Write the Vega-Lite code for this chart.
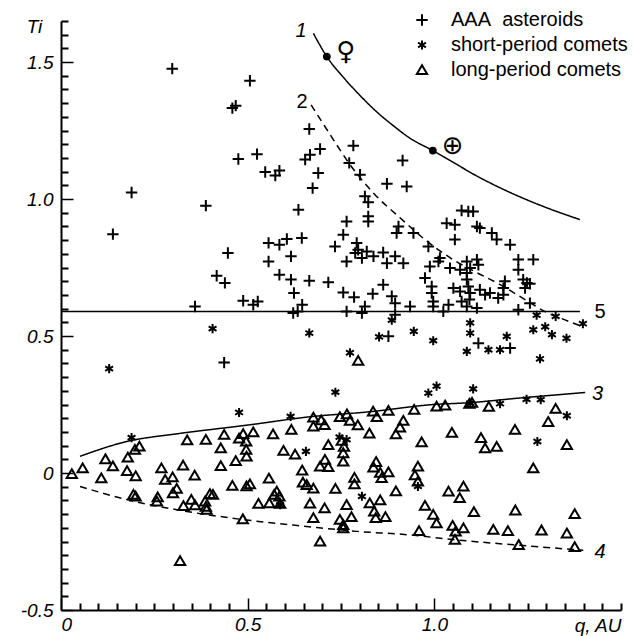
{
  "$schema": "https://vega.github.io/schema/vega-lite/v6.json",
  "width": 560,
  "height": 589,
  "autosize": {"type": "none"},
  "padding": {"left": 61, "top": 21, "right": 13, "bottom": 26},
  "config": {
    "view": {"stroke": null},
    "font": "Liberation Sans",
    "axis": {
      "domainColor": "black", "domainWidth": 2, "tickColor": "black", "tickWidth": 1.5,
      "labelColor": "black", "labelFont": "Liberation Sans", "labelFontStyle": "italic", "labelFontSize": 19,
      "grid": false, "titleColor": "black", "titleFont": "Liberation Sans", "titleFontStyle": "italic",
      "titleFontWeight": "normal", "titleFontSize": 19
    }
  },
  "resolve": {"axis": {"x": "independent", "y": "independent"}},
  "datasets": {
    "points": [
      {"q":0.298,"Ti":1.476,"type":"AAA asteroids"},{"q":0.189,"Ti":1.024,"type":"AAA asteroids"},{"q":0.139,"Ti":0.872,"type":"AAA asteroids"},{"q":0.388,"Ti":0.976,"type":"AAA asteroids"},{"q":0.506,"Ti":1.432,"type":"AAA asteroids"},{"q":0.459,"Ti":1.332,"type":"AAA asteroids"},{"q":0.468,"Ti":1.341,"type":"AAA asteroids"},{"q":0.475,"Ti":1.146,"type":"AAA asteroids"},{"q":0.525,"Ti":1.164,"type":"AAA asteroids"},{"q":0.547,"Ti":1.099,"type":"AAA asteroids"},{"q":0.574,"Ti":1.086,"type":"AAA asteroids"},{"q":0.585,"Ti":1.104,"type":"AAA asteroids"},{"q":0.447,"Ti":0.803,"type":"AAA asteroids"},{"q":0.417,"Ti":0.720,"type":"AAA asteroids"},{"q":0.439,"Ti":0.694,"type":"AAA asteroids"},{"q":0.359,"Ti":0.608,"type":"AAA asteroids"},{"q":0.488,"Ti":0.629,"type":"AAA asteroids"},{"q":0.515,"Ti":0.614,"type":"AAA asteroids"},{"q":0.527,"Ti":0.626,"type":"AAA asteroids"},{"q":0.556,"Ti":0.840,"type":"AAA asteroids"},{"q":0.585,"Ti":0.833,"type":"AAA asteroids"},{"q":0.605,"Ti":0.854,"type":"AAA asteroids"},{"q":0.556,"Ti":0.772,"type":"AAA asteroids"},{"q":0.616,"Ti":0.791,"type":"AAA asteroids"},{"q":0.585,"Ti":0.724,"type":"AAA asteroids"},{"q":0.616,"Ti":0.706,"type":"AAA asteroids"},{"q":0.665,"Ti":0.702,"type":"AAA asteroids"},{"q":0.624,"Ti":0.657,"type":"AAA asteroids"},{"q":0.622,"Ti":0.584,"type":"AAA asteroids"},{"q":0.634,"Ti":0.590,"type":"AAA asteroids"},{"q":0.646,"Ti":0.614,"type":"AAA asteroids"},{"q":0.645,"Ti":0.858,"type":"AAA asteroids"},{"q":0.636,"Ti":0.961,"type":"AAA asteroids"},{"q":0.674,"Ti":1.040,"type":"AAA asteroids"},{"q":0.665,"Ti":1.256,"type":"AAA asteroids"},{"q":0.654,"Ti":1.144,"type":"AAA asteroids"},{"q":0.667,"Ti":1.162,"type":"AAA asteroids"},{"q":0.694,"Ti":1.183,"type":"AAA asteroids"},{"q":0.689,"Ti":1.095,"type":"AAA asteroids"},{"q":0.437,"Ti":0.403,"type":"AAA asteroids"},
      {"q":0.783,"Ti":1.195,"type":"AAA asteroids"},{"q":0.772,"Ti":1.132,"type":"AAA asteroids"},{"q":0.801,"Ti":1.089,"type":"AAA asteroids"},{"q":0.915,"Ti":1.141,"type":"AAA asteroids"},{"q":0.873,"Ti":1.056,"type":"AAA asteroids"},{"q":0.926,"Ti":1.046,"type":"AAA asteroids"},{"q":0.814,"Ti":1.010,"type":"AAA asteroids"},{"q":0.823,"Ti":0.988,"type":"AAA asteroids"},{"q":0.823,"Ti":0.937,"type":"AAA asteroids"},{"q":0.823,"Ti":0.918,"type":"AAA asteroids"},{"q":0.765,"Ti":0.918,"type":"AAA asteroids"},{"q":0.756,"Ti":0.870,"type":"AAA asteroids"},{"q":0.734,"Ti":0.827,"type":"AAA asteroids"},{"q":0.792,"Ti":0.840,"type":"AAA asteroids"},{"q":0.796,"Ti":0.815,"type":"AAA asteroids"},{"q":0.788,"Ti":0.803,"type":"AAA asteroids"},{"q":0.819,"Ti":0.809,"type":"AAA asteroids"},{"q":0.806,"Ti":0.785,"type":"AAA asteroids"},{"q":0.765,"Ti":0.772,"type":"AAA asteroids"},{"q":0.837,"Ti":0.791,"type":"AAA asteroids"},{"q":0.863,"Ti":0.805,"type":"AAA asteroids"},{"q":0.895,"Ti":0.791,"type":"AAA asteroids"},{"q":0.873,"Ti":0.766,"type":"AAA asteroids"},{"q":0.917,"Ti":0.766,"type":"AAA asteroids"},{"q":0.904,"Ti":0.900,"type":"AAA asteroids"},{"q":0.899,"Ti":0.876,"type":"AAA asteroids"},{"q":0.944,"Ti":0.876,"type":"AAA asteroids"},{"q":0.984,"Ti":0.827,"type":"AAA asteroids"},{"q":0.988,"Ti":0.754,"type":"AAA asteroids"},{"q":1.011,"Ti":0.772,"type":"AAA asteroids"},{"q":0.975,"Ti":0.712,"type":"AAA asteroids"},{"q":0.716,"Ti":0.696,"type":"AAA asteroids"},{"q":0.756,"Ti":0.659,"type":"AAA asteroids"},{"q":0.785,"Ti":0.642,"type":"AAA asteroids"},{"q":0.835,"Ti":0.654,"type":"AAA asteroids"},{"q":0.863,"Ti":0.687,"type":"AAA asteroids"},{"q":0.886,"Ti":0.645,"type":"AAA asteroids"},{"q":0.895,"Ti":0.620,"type":"AAA asteroids"},{"q":0.935,"Ti":0.608,"type":"AAA asteroids"},{"q":0.993,"Ti":0.681,"type":"AAA asteroids"},{"q":0.993,"Ti":0.657,"type":"AAA asteroids"},{"q":0.997,"Ti":0.626,"type":"AAA asteroids"},{"q":0.997,"Ti":0.608,"type":"AAA asteroids"},{"q":0.765,"Ti":0.590,"type":"AAA asteroids"},{"q":0.806,"Ti":0.584,"type":"AAA asteroids"},{"q":0.814,"Ti":0.608,"type":"AAA asteroids"},{"q":0.895,"Ti":0.578,"type":"AAA asteroids"},{"q":0.877,"Ti":0.499,"type":"AAA asteroids"},
      {"q":1.073,"Ti":0.958,"type":"AAA asteroids"},{"q":1.091,"Ti":0.955,"type":"AAA asteroids"},{"q":1.104,"Ti":0.955,"type":"AAA asteroids"},{"q":1.033,"Ti":0.912,"type":"AAA asteroids"},{"q":1.055,"Ti":0.906,"type":"AAA asteroids"},{"q":1.055,"Ti":0.852,"type":"AAA asteroids"},{"q":1.114,"Ti":0.900,"type":"AAA asteroids"},{"q":1.122,"Ti":0.894,"type":"AAA asteroids"},{"q":1.154,"Ti":0.876,"type":"AAA asteroids"},{"q":1.167,"Ti":0.852,"type":"AAA asteroids"},{"q":1.203,"Ti":0.833,"type":"AAA asteroids"},{"q":1.225,"Ti":0.779,"type":"AAA asteroids"},{"q":1.265,"Ti":0.779,"type":"AAA asteroids"},{"q":1.225,"Ti":0.742,"type":"AAA asteroids"},{"q":1.238,"Ti":0.706,"type":"AAA asteroids"},{"q":1.248,"Ti":0.694,"type":"AAA asteroids"},{"q":1.256,"Ti":0.691,"type":"AAA asteroids"},{"q":1.243,"Ti":0.675,"type":"AAA asteroids"},{"q":1.189,"Ti":0.700,"type":"AAA asteroids"},{"q":1.185,"Ti":0.675,"type":"AAA asteroids"},{"q":1.185,"Ti":0.651,"type":"AAA asteroids"},{"q":1.149,"Ti":0.657,"type":"AAA asteroids"},{"q":1.171,"Ti":0.639,"type":"AAA asteroids"},{"q":1.256,"Ti":0.620,"type":"AAA asteroids"},{"q":1.225,"Ti":0.596,"type":"AAA asteroids"},{"q":1.114,"Ti":0.779,"type":"AAA asteroids"},{"q":1.118,"Ti":0.760,"type":"AAA asteroids"},{"q":1.087,"Ti":0.772,"type":"AAA asteroids"},{"q":1.096,"Ti":0.748,"type":"AAA asteroids"},{"q":1.069,"Ti":0.742,"type":"AAA asteroids"},{"q":1.087,"Ti":0.730,"type":"AAA asteroids"},{"q":1.015,"Ti":0.785,"type":"AAA asteroids"},{"q":1.042,"Ti":0.748,"type":"AAA asteroids"},{"q":1.087,"Ti":0.706,"type":"AAA asteroids"},{"q":1.091,"Ti":0.681,"type":"AAA asteroids"},{"q":1.096,"Ti":0.657,"type":"AAA asteroids"},{"q":1.094,"Ti":0.633,"type":"AAA asteroids"},{"q":1.087,"Ti":0.608,"type":"AAA asteroids"},{"q":1.051,"Ti":0.675,"type":"AAA asteroids"},{"q":1.069,"Ti":0.663,"type":"AAA asteroids"},{"q":1.122,"Ti":0.669,"type":"AAA asteroids"},{"q":1.136,"Ti":0.651,"type":"AAA asteroids"},{"q":1.073,"Ti":0.626,"type":"AAA asteroids"},{"q":1.114,"Ti":0.602,"type":"AAA asteroids"},{"q":1.024,"Ti":0.590,"type":"AAA asteroids"},{"q":1.038,"Ti":0.614,"type":"AAA asteroids"},{"q":1.118,"Ti":0.474,"type":"AAA asteroids"},{"q":1.203,"Ti":0.456,"type":"AAA asteroids"},
      {"q":0.129,"Ti":0.381,"type":"short-period comets"},{"q":0.406,"Ti":0.527,"type":"short-period comets"},{"q":0.665,"Ti":0.511,"type":"short-period comets"},{"q":0.477,"Ti":0.221,"type":"short-period comets"},{"q":0.615,"Ti":0.207,"type":"short-period comets"},{"q":0.189,"Ti":0.129,"type":"short-period comets"},{"q":0.656,"Ti":0.079,"type":"short-period comets"},{"q":0.587,"Ti":-0.116,"type":"short-period comets"},{"q":0.886,"Ti":0.558,"type":"short-period comets"},{"q":0.852,"Ti":0.497,"type":"short-period comets"},{"q":0.945,"Ti":0.517,"type":"short-period comets"},{"q":0.997,"Ti":0.483,"type":"short-period comets"},{"q":0.774,"Ti":0.439,"type":"short-period comets"},{"q":1.096,"Ti":0.548,"type":"short-period comets"},{"q":1.096,"Ti":0.511,"type":"short-period comets"},{"q":1.194,"Ti":0.499,"type":"short-period comets"},{"q":1.087,"Ti":0.444,"type":"short-period comets"},{"q":1.145,"Ti":0.450,"type":"short-period comets"},{"q":1.176,"Ti":0.450,"type":"short-period comets"},{"q":1.283,"Ti":0.417,"type":"short-period comets"},{"q":1.265,"Ti":0.523,"type":"short-period comets"},{"q":1.297,"Ti":0.534,"type":"short-period comets"},{"q":1.315,"Ti":0.505,"type":"short-period comets"},{"q":1.274,"Ti":0.576,"type":"short-period comets"},{"q":1.354,"Ti":0.492,"type":"short-period comets"},{"q":1.398,"Ti":0.545,"type":"short-period comets"},{"q":1.325,"Ti":0.572,"type":"short-period comets"},{"q":0.735,"Ti":0.295,"type":"short-period comets"},{"q":0.984,"Ti":0.292,"type":"short-period comets"},{"q":1.006,"Ti":0.317,"type":"short-period comets"},{"q":1.104,"Ti":0.307,"type":"short-period comets"},{"q":1.096,"Ti":0.255,"type":"short-period comets"},{"q":1.176,"Ti":0.253,"type":"short-period comets"},{"q":1.247,"Ti":0.269,"type":"short-period comets"},{"q":1.285,"Ti":0.268,"type":"short-period comets"},{"q":1.355,"Ti":0.209,"type":"short-period comets"},{"q":1.276,"Ti":0.115,"type":"short-period comets"},{"q":0.746,"Ti":0.131,"type":"short-period comets"},{"q":0.765,"Ti":0.122,"type":"short-period comets"},{"q":0.806,"Ti":-0.085,"type":"short-period comets"},{"q":0.956,"Ti":-0.049,"type":"short-period comets"},
      {"q":0.029,"Ti":-0.003,"type":"long-period comets"},{"q":0.058,"Ti":0.018,"type":"long-period comets"},{"q":0.108,"Ti":-0.019,"type":"long-period comets"},{"q":0.119,"Ti":0.051,"type":"long-period comets"},{"q":0.139,"Ti":0.025,"type":"long-period comets"},{"q":0.179,"Ti":0.057,"type":"long-period comets"},{"q":0.177,"Ti":0.008,"type":"long-period comets"},{"q":0.200,"Ti":-0.011,"type":"long-period comets"},{"q":0.198,"Ti":0.085,"type":"long-period comets"},{"q":0.210,"Ti":0.097,"type":"long-period comets"},{"q":0.194,"Ti":-0.079,"type":"long-period comets"},{"q":0.200,"Ti":-0.085,"type":"long-period comets"},{"q":0.259,"Ti":-0.088,"type":"long-period comets"},{"q":0.257,"Ti":-0.104,"type":"long-period comets"},{"q":0.269,"Ti":0.018,"type":"long-period comets"},{"q":0.279,"Ti":-0.024,"type":"long-period comets"},{"q":0.299,"Ti":-0.015,"type":"long-period comets"},{"q":0.310,"Ti":-0.057,"type":"long-period comets"},{"q":0.300,"Ti":-0.073,"type":"long-period comets"},{"q":0.327,"Ti":0.028,"type":"long-period comets"},{"q":0.358,"Ti":-0.009,"type":"long-period comets"},{"q":0.338,"Ti":0.120,"type":"long-period comets"},{"q":0.388,"Ti":0.122,"type":"long-period comets"},{"q":0.437,"Ti":0.140,"type":"long-period comets"},{"q":0.428,"Ti":0.091,"type":"long-period comets"},{"q":0.428,"Ti":0.026,"type":"long-period comets"},{"q":0.468,"Ti":0.044,"type":"long-period comets"},{"q":0.477,"Ti":0.126,"type":"long-period comets"},{"q":0.488,"Ti":0.143,"type":"long-period comets"},{"q":0.459,"Ti":-0.046,"type":"long-period comets"},{"q":0.497,"Ti":-0.048,"type":"long-period comets"},{"q":0.506,"Ti":-0.041,"type":"long-period comets"},{"q":0.328,"Ti":-0.120,"type":"long-period comets"},{"q":0.349,"Ti":-0.097,"type":"long-period comets"},{"q":0.359,"Ti":-0.117,"type":"long-period comets"},{"q":0.388,"Ti":-0.123,"type":"long-period comets"},{"q":0.390,"Ti":-0.134,"type":"long-period comets"},{"q":0.399,"Ti":-0.076,"type":"long-period comets"},{"q":0.407,"Ti":-0.079,"type":"long-period comets"},{"q":0.386,"Ti":-0.104,"type":"long-period comets"},{"q":0.487,"Ti":-0.168,"type":"long-period comets"},{"q":0.319,"Ti":-0.321,"type":"long-period comets"},{"q":0.497,"Ti":0.061,"type":"long-period comets"},{"q":0.496,"Ti":0.115,"type":"long-period comets"},{"q":0.496,"Ti":0.085,"type":"long-period comets"},{"q":0.515,"Ti":0.149,"type":"long-period comets"},{"q":0.529,"Ti":-0.112,"type":"long-period comets"},{"q":0.558,"Ti":-0.110,"type":"long-period comets"},{"q":0.571,"Ti":-0.079,"type":"long-period comets"},{"q":0.578,"Ti":-0.067,"type":"long-period comets"},{"q":0.585,"Ti":-0.085,"type":"long-period comets"},{"q":0.557,"Ti":-0.020,"type":"long-period comets"},{"q":0.568,"Ti":0.142,"type":"long-period comets"},{"q":0.596,"Ti":0.082,"type":"long-period comets"},{"q":0.617,"Ti":0.158,"type":"long-period comets"},{"q":0.627,"Ti":0.068,"type":"long-period comets"},{"q":0.646,"Ti":0.010,"type":"long-period comets"},{"q":0.648,"Ti":-0.034,"type":"long-period comets"},{"q":0.658,"Ti":-0.043,"type":"long-period comets"},{"q":0.676,"Ti":-0.056,"type":"long-period comets"},{"q":0.667,"Ti":-0.111,"type":"long-period comets"},{"q":0.676,"Ti":-0.164,"type":"long-period comets"},{"q":0.676,"Ti":0.203,"type":"long-period comets"},{"q":0.697,"Ti":0.193,"type":"long-period comets"},{"q":0.676,"Ti":0.170,"type":"long-period comets"},{"q":0.706,"Ti":0.176,"type":"long-period comets"},{"q":0.694,"Ti":-0.250,"type":"long-period comets"},{"q":0.747,"Ti":0.205,"type":"long-period comets"},{"q":0.766,"Ti":0.215,"type":"long-period comets"},{"q":0.774,"Ti":0.191,"type":"long-period comets"},{"q":0.795,"Ti":0.175,"type":"long-period comets"},{"q":0.836,"Ti":0.225,"type":"long-period comets"},{"q":0.846,"Ti":0.205,"type":"long-period comets"},{"q":0.877,"Ti":0.228,"type":"long-period comets"},{"q":0.946,"Ti":0.231,"type":"long-period comets"},{"q":0.917,"Ti":0.191,"type":"long-period comets"},{"q":0.908,"Ti":0.167,"type":"long-period comets"},{"q":0.897,"Ti":0.142,"type":"long-period comets"},{"q":0.826,"Ti":0.145,"type":"long-period comets"},{"q":0.966,"Ti":0.113,"type":"long-period comets"},{"q":0.716,"Ti":0.103,"type":"long-period comets"},{"q":0.752,"Ti":0.118,"type":"long-period comets"},{"q":0.758,"Ti":0.096,"type":"long-period comets"},{"q":0.756,"Ti":0.073,"type":"long-period comets"},{"q":0.756,"Ti":0.042,"type":"long-period comets"},{"q":0.707,"Ti":0.049,"type":"long-period comets"},{"q":0.694,"Ti":0.024,"type":"long-period comets"},{"q":0.716,"Ti":0.022,"type":"long-period comets"},{"q":0.735,"Ti":-0.057,"type":"long-period comets"},{"q":0.786,"Ti":-0.017,"type":"long-period comets"},{"q":0.786,"Ti":-0.041,"type":"long-period comets"},{"q":0.844,"Ti":0.041,"type":"long-period comets"},{"q":0.837,"Ti":0.021,"type":"long-period comets"},{"q":0.855,"Ti":0.001,"type":"long-period comets"},{"q":0.877,"Ti":0.003,"type":"long-period comets"},{"q":0.859,"Ti":-0.018,"type":"long-period comets"},{"q":0.897,"Ti":-0.066,"type":"long-period comets"},{"q":0.956,"Ti":0.024,"type":"long-period comets"},{"q":0.948,"Ti":-0.008,"type":"long-period comets"},{"q":0.956,"Ti":-0.031,"type":"long-period comets"},{"q":0.587,"Ti":-0.112,"type":"long-period comets"},{"q":0.706,"Ti":-0.128,"type":"long-period comets"},{"q":0.765,"Ti":-0.116,"type":"long-period comets"},{"q":0.827,"Ti":-0.110,"type":"long-period comets"},{"q":0.855,"Ti":-0.099,"type":"long-period comets"},{"q":0.839,"Ti":-0.140,"type":"long-period comets"},{"q":0.843,"Ti":-0.164,"type":"long-period comets"},{"q":0.869,"Ti":-0.160,"type":"long-period comets"},{"q":0.747,"Ti":-0.170,"type":"long-period comets"},{"q":0.756,"Ti":-0.189,"type":"long-period comets"},{"q":0.756,"Ti":-0.201,"type":"long-period comets"},{"q":0.778,"Ti":-0.160,"type":"long-period comets"},{"q":0.959,"Ti":-0.211,"type":"long-period comets"},{"q":0.975,"Ti":-0.119,"type":"long-period comets"},{"q":0.997,"Ti":-0.152,"type":"long-period comets"},{"q":1.006,"Ti":-0.183,"type":"long-period comets"},{"q":1.006,"Ti":0.243,"type":"long-period comets"},{"q":1.029,"Ti":0.247,"type":"long-period comets"},{"q":1.094,"Ti":0.253,"type":"long-period comets"},{"q":1.101,"Ti":0.257,"type":"long-period comets"},{"q":1.146,"Ti":0.242,"type":"long-period comets"},{"q":1.325,"Ti":0.235,"type":"long-period comets"},{"q":1.305,"Ti":0.187,"type":"long-period comets"},{"q":1.216,"Ti":0.158,"type":"long-period comets"},{"q":1.047,"Ti":0.147,"type":"long-period comets"},{"q":1.125,"Ti":0.128,"type":"long-period comets"},{"q":1.136,"Ti":0.091,"type":"long-period comets"},{"q":1.167,"Ti":0.096,"type":"long-period comets"},{"q":1.355,"Ti":0.103,"type":"long-period comets"},{"q":1.265,"Ti":0.018,"type":"long-period comets"},{"q":1.038,"Ti":-0.067,"type":"long-period comets"},{"q":1.078,"Ti":-0.049,"type":"long-period comets"},{"q":1.068,"Ti":-0.091,"type":"long-period comets"},{"q":1.049,"Ti":-0.192,"type":"long-period comets"},{"q":1.057,"Ti":-0.213,"type":"long-period comets"},{"q":1.078,"Ti":-0.201,"type":"long-period comets"},{"q":1.055,"Ti":-0.243,"type":"long-period comets"},{"q":1.106,"Ti":-0.142,"type":"long-period comets"},{"q":1.217,"Ti":-0.136,"type":"long-period comets"},{"q":1.376,"Ti":-0.149,"type":"long-period comets"},{"q":1.158,"Ti":-0.207,"type":"long-period comets"},{"q":1.197,"Ti":-0.211,"type":"long-period comets"},{"q":1.287,"Ti":-0.209,"type":"long-period comets"},{"q":1.355,"Ti":-0.220,"type":"long-period comets"},{"q":1.226,"Ti":-0.262,"type":"long-period comets"},{"q":1.376,"Ti":-0.270,"type":"long-period comets"},{"q":0.796,"Ti":0.410,"type":"long-period comets"}
    ],
    "curves": [
      {"curve":"1","style":"solid","q":0.676,"Ti":1.605},{"curve":"1","style":"solid","q":0.712,"Ti":1.520},{"curve":"1","style":"solid","q":0.756,"Ti":1.445},{"curve":"1","style":"solid","q":0.801,"Ti":1.378},{"curve":"1","style":"solid","q":0.846,"Ti":1.318},{"curve":"1","style":"solid","q":0.890,"Ti":1.268},{"curve":"1","style":"solid","q":0.935,"Ti":1.222},{"curve":"1","style":"solid","q":0.996,"Ti":1.177},{"curve":"1","style":"solid","q":1.042,"Ti":1.141},{"curve":"1","style":"solid","q":1.114,"Ti":1.084},{"curve":"1","style":"solid","q":1.203,"Ti":1.024},{"curve":"1","style":"solid","q":1.292,"Ti":0.973},{"curve":"1","style":"solid","q":1.390,"Ti":0.925},
      {"curve":"2","style":"dashed","q":0.670,"Ti":1.344},{"curve":"2","style":"dashed","q":0.721,"Ti":1.235},{"curve":"2","style":"dashed","q":0.774,"Ti":1.126},{"curve":"2","style":"dashed","q":0.841,"Ti":1.016},{"curve":"2","style":"dashed","q":0.908,"Ti":0.932},{"curve":"2","style":"dashed","q":0.975,"Ti":0.852},{"curve":"2","style":"dashed","q":1.042,"Ti":0.786},{"curve":"2","style":"dashed","q":1.109,"Ti":0.735},{"curve":"2","style":"dashed","q":1.176,"Ti":0.688},{"curve":"2","style":"dashed","q":1.243,"Ti":0.633},{"curve":"2","style":"dashed","q":1.297,"Ti":0.589},{"curve":"2","style":"dashed","q":1.350,"Ti":0.559},{"curve":"2","style":"dashed","q":1.390,"Ti":0.538},
      {"curve":"3","style":"solid","q":0.051,"Ti":0.061},{"curve":"3","style":"solid","q":0.176,"Ti":0.115},{"curve":"3","style":"solid","q":0.310,"Ti":0.143},{"curve":"3","style":"solid","q":0.506,"Ti":0.176},{"curve":"3","style":"solid","q":0.658,"Ti":0.204},{"curve":"3","style":"solid","q":0.837,"Ti":0.225},{"curve":"3","style":"solid","q":0.988,"Ti":0.249},{"curve":"3","style":"solid","q":1.096,"Ti":0.257},{"curve":"3","style":"solid","q":1.230,"Ti":0.274},{"curve":"3","style":"solid","q":1.404,"Ti":0.294},
      {"curve":"4","style":"dashed","q":0.051,"Ti":-0.049},{"curve":"4","style":"dashed","q":0.176,"Ti":-0.097},{"curve":"4","style":"dashed","q":0.310,"Ti":-0.134},{"curve":"4","style":"dashed","q":0.488,"Ti":-0.170},{"curve":"4","style":"dashed","q":0.658,"Ti":-0.195},{"curve":"4","style":"dashed","q":0.792,"Ti":-0.213},{"curve":"4","style":"dashed","q":0.926,"Ti":-0.225},{"curve":"4","style":"dashed","q":1.051,"Ti":-0.243},{"curve":"4","style":"dashed","q":1.230,"Ti":-0.264},{"curve":"4","style":"dashed","q":1.399,"Ti":-0.282},
      {"curve":"5","style":"solid","q":0.0,"Ti":0.59},{"curve":"5","style":"solid","q":1.39,"Ti":0.59}
    ],
    "curveLabels": [
      {"label":"1","q":0.643,"Ti":1.614},{"label":"2","q":0.646,"Ti":1.355},{"label":"3","q":1.437,"Ti":0.289},{"label":"4","q":1.444,"Ti":-0.288},{"label":"5","q":1.444,"Ti":0.589}
    ],
    "planets": [
      {"planet":"Venus","q":0.712,"Ti":1.520,"symQ":0.763,"symTi":1.538,"sym":"♀"},
      {"planet":"Earth","q":0.996,"Ti":1.177,"symQ":1.049,"symTi":1.195,"sym":"⊕"}
    ]
  },
  "layer": [
    {
      "data": {"name": "curves"},
      "mark": {"type": "line", "color": "black", "strokeWidth": 1.5, "interpolate": "monotone"},
      "encoding": {
        "x": {"field": "q", "type": "quantitative", "scale": {"domain": [0, 1.5], "nice": false, "zero": false},
              "axis": {"orient": "bottom", "values": [0.05,0.1,0.15,0.2,0.25,0.3,0.35,0.4,0.45,0.55,0.6,0.65,0.7,0.75,0.8,0.85,0.9,0.95,1.05,1.1,1.15,1.2,1.25,1.3,1.35,1.4,1.45,1.5],
                       "labels": false, "domain": false, "ticks": true, "tickSize": -7, "tickWidth": 2, "tickColor": "black", "title": null, "offset": 0}},
        "y": {"field": "Ti", "type": "quantitative", "scale": {"domain": [-0.5, 1.65], "nice": false, "zero": false},
              "axis": {"orient": "left", "values": [-0.45,-0.4,-0.35,-0.3,-0.25,-0.2,-0.15,-0.1,-0.05,0.05,0.1,0.15,0.2,0.25,0.3,0.35,0.4,0.45,0.55,0.6,0.65,0.7,0.75,0.8,0.85,0.9,0.95,1.05,1.1,1.15,1.2,1.25,1.3,1.35,1.4,1.45,1.55,1.6,1.65],
                       "labels": false, "domain": false, "ticks": true, "tickSize": -7, "tickWidth": 2, "tickColor": "black", "title": null, "offset": 0}},
        "detail": {"field": "curve"},
        "strokeDash": {"field": "style", "type": "nominal", "scale": {"domain": ["solid", "dashed"], "range": [[1, 0], [7, 5]]}, "legend": null}
      }
    },
    {
      "data": {"name": "points"},
      "mark": {"type": "point", "filled": false, "strokeWidth": 2, "color": "black", "opacity": 1, "size": 130},
      "encoding": {
        "x": {"field": "q", "type": "quantitative",
              "axis": {"orient": "bottom", "values": [0, 0.5, 1], "tickSize": -12, "labelPadding": 17, "offset": 0,
                       "labelExpr": "datum.value === 0 ? '0' : format(datum.value, '.1f')",
                       "title": "q, AU", "titleX": 560, "titleY": 6, "titleAlign": "right", "titleBaseline": "top"}},
        "y": {"field": "Ti", "type": "quantitative",
              "axis": {"orient": "left", "values": [-0.5, 0, 0.5, 1, 1.5], "tickSize": -12, "labelPadding": 20, "offset": 0,
                       "labelExpr": "datum.value === 0 ? '0' : (datum.value < 0 ? '-' + format(-datum.value, '.1f') : format(datum.value, '.1f'))",
                       "title": "Ti", "titleAngle": 0, "titleX": -27, "titleY": 5, "titleAlign": "center", "titleBaseline": "middle"}},
        "shape": {"field": "type", "type": "nominal",
                  "scale": {"domain": ["AAA asteroids", "short-period comets", "long-period comets"],
                            "range": ["M-1,0H1M0,-1V1", "M0,-0.8V0.8M-0.69,-0.4L0.69,0.4M-0.69,0.4L0.69,-0.4", "M0,-0.82L0.9,0.72L-0.9,0.72Z"]},
                  "legend": {"orient": "none", "legendX": 351, "legendY": -11, "title": null, "padding": 0,
                             "labelFont": "Liberation Sans", "labelFontSize": 20, "labelColor": "black", "labelOffset": 19,
                             "labelLimit": 400,
                             "symbolStrokeColor": "black", "symbolStrokeWidth": 2, "symbolSize": 130, "symbolFillColor": "transparent",
                             "rowPadding": 5,
                             "labelExpr": "datum.label == 'AAA asteroids' ? 'AAA\u00a0 asteroids' : datum.label"}}
      }
    },
    {
      "data": {"name": "planets"},
      "mark": {"type": "point", "filled": true, "color": "black", "size": 60, "shape": "circle", "opacity": 1},
      "encoding": {
        "x": {"field": "q", "type": "quantitative", "axis": null},
        "y": {"field": "Ti", "type": "quantitative", "axis": null}
      }
    },
    {
      "data": {"name": "planets"},
      "mark": {"type": "text", "font": "DejaVu Sans", "fontSize": 26, "color": "black", "align": "center", "baseline": "middle"},
      "encoding": {
        "x": {"field": "symQ", "type": "quantitative", "axis": null},
        "y": {"field": "symTi", "type": "quantitative", "axis": null},
        "text": {"field": "sym"}
      }
    },
    {
      "data": {"name": "curveLabels"},
      "mark": {"type": "text", "font": "Liberation Sans", "fontSize": 20, "color": "black", "align": "center", "baseline": "middle",
               "fontStyle": {"expr": "datum.label == '2' || datum.label == '5' ? 'normal' : 'italic'"}},
      "encoding": {
        "x": {"field": "q", "type": "quantitative", "axis": null},
        "y": {"field": "Ti", "type": "quantitative", "axis": null},
        "text": {"field": "label"}
      }
    }
  ]
}
